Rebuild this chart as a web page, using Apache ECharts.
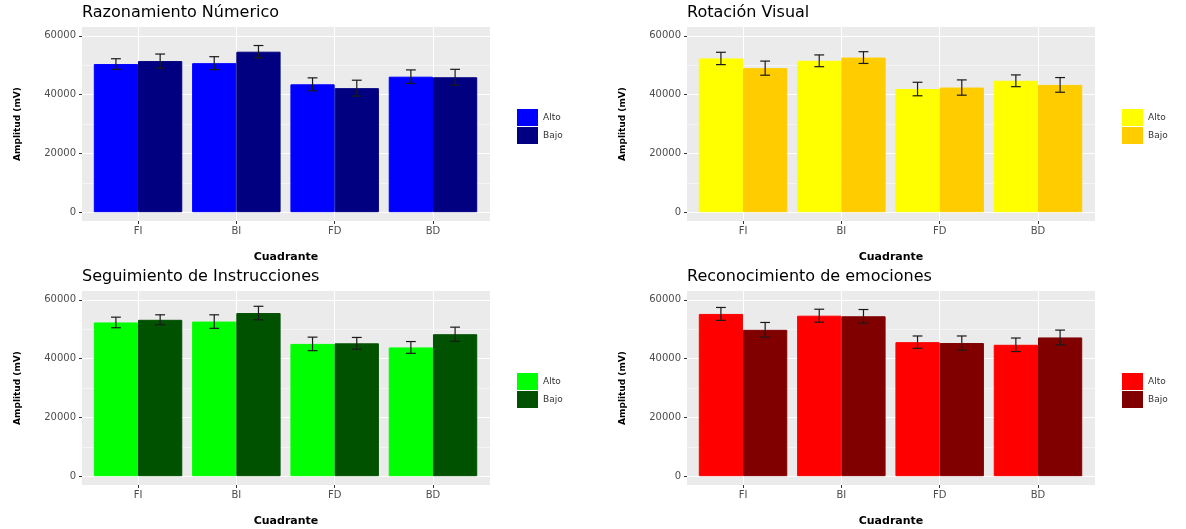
<!DOCTYPE html>
<html>
<head>
<meta charset="utf-8">
<script src="https://cdn.jsdelivr.net/npm/echarts@6.0.0/dist/echarts.min.js"></script>
<style>
html,body{margin:0;padding:0;background:#ffffff;}
#chart{width:1186px;height:529px;}
</style>
</head>
<body>
<div id="chart"></div>
<script>
// ---- data ----
const categories = ['FI', 'BI', 'FD', 'BD'];
const groups = ['Alto', 'Bajo'];
const yTicks = [0, 20000, 40000, 60000];
const yMinorTicks = [10000, 30000, 50000];
const titles = ['Razonamiento Númerico', 'Rotación Visual', 'Seguimiento de Instrucciones', 'Reconocimiento de emociones'];
const panelKeys = ['RN', 'RV', 'SI', 'RE'];

const rnAlto = [50400, 50700, 43500, 46100];
const rnBajo = [51400, 54600, 42200, 45900];
const rnAltoErr = [1800, 2200, 2200, 2300];
const rnBajoErr = [2400, 2100, 2700, 2700];

const rvAlto = [52300, 51500, 41900, 44700];
const rvBajo = [49000, 52600, 42400, 43300];
const rvAltoErr = [2100, 2000, 2300, 2000];
const rvBajoErr = [2400, 2000, 2600, 2500];

const siAlto = [52300, 52600, 45000, 43800];
const siBajo = [53200, 55500, 45200, 48300];
const siAltoErr = [1800, 2300, 2300, 2000];
const siBajoErr = [1700, 2300, 2000, 2400];

const reAlto = [55200, 54600, 45600, 44700];
const reBajo = [49800, 54400, 45300, 47200];
const reAltoErr = [2200, 2200, 2100, 2300];
const reBajoErr = [2500, 2300, 2400, 2500];

// ---- styles ----
const altoColors = ['#0000FF', '#FFFF00', '#00FF00', '#FF0000'];
const bajoColors = ['#000080', '#FFCC00', '#005200', '#800000'];

const panelData = [
  [rnAlto, rnBajo, rnAltoErr, rnBajoErr],
  [rvAlto, rvBajo, rvAltoErr, rvBajoErr],
  [siAlto, siBajo, siAltoErr, siBajoErr],
  [reAlto, reBajo, reAltoErr, reBajoErr]
];

const FONT = 'DejaVu Sans';
const gridPos = [[82, 27], [687, 27], [82, 291], [687, 291]];
const GW = 408, GH = 194;
const catIdx = categories.map(function (c, i) { return i; });

function errRender(params, api) {
  const x = api.value(0), v = api.value(1), e = api.value(2), side = api.value(3);
  const unit = api.size([1, 0])[0];
  const px = api.coord([x, v])[0] + side * unit * 0.225;
  const yHi = api.coord([x, v + e])[1];
  const yLo = api.coord([x, v - e])[1];
  const half = unit * 0.05;
  const style = { stroke: '#1A1A1A', lineWidth: 1.2, fill: null };
  return {
    type: 'group',
    children: [
      { type: 'line', shape: { x1: px, y1: yHi, x2: px, y2: yLo }, style: style },
      { type: 'line', shape: { x1: px - half, y1: yHi, x2: px + half, y2: yHi }, style: style },
      { type: 'line', shape: { x1: px - half, y1: yLo, x2: px + half, y2: yLo }, style: style }
    ]
  };
}

const grid = [], xAxis = [], yAxis = [], series = [], legend = [], title = [];

gridPos.forEach(function (pos, p) {
  const gx = pos[0], gy = pos[1];
  grid.push({ left: gx, top: gy, width: GW, height: GH, show: true, backgroundColor: '#EBEBEB', borderWidth: 0 });
  title.push({ text: titles[p], left: gx, top: gy - 22, padding: 0,
    textStyle: { fontFamily: FONT, fontSize: 16, fontWeight: 'normal', color: '#000000' } });
  xAxis.push({
    gridIndex: p, type: 'value', min: -0.57, max: 3.58,
    axisLine: { show: false, onZero: false },
    axisTick: { show: true, length: 3, customValues: catIdx, lineStyle: { color: '#333333' } },
    axisLabel: { customValues: catIdx, formatter: function (v) { return categories[Math.round(v)]; },
      color: '#4D4D4D', fontSize: 10, margin: 5, fontFamily: FONT },
    splitLine: { show: true, lineStyle: { color: '#FFFFFF', width: 1 } },
    name: 'Cuadrante', nameLocation: 'middle', nameGap: 31,
    nameTextStyle: { fontFamily: FONT, fontWeight: 'bold', fontSize: 11, color: '#000000' }
  });
  yAxis.push({
    gridIndex: p, type: 'value', min: -3000, max: 63000, position: 'left',
    axisLine: { show: false, onZero: false },
    axisTick: { show: true, length: 3, customValues: yTicks, lineStyle: { color: '#333333' } },
    axisLabel: { customValues: yTicks, formatter: function (v) { return String(Math.round(v)); },
      color: '#4D4D4D', fontSize: 10, margin: 6, fontFamily: FONT },
    splitLine: { show: true, lineStyle: { color: '#FFFFFF', width: 1 } },
    name: 'Amplitud (mV)', nameLocation: 'middle', nameGap: 60,
    nameTextStyle: { fontFamily: FONT, fontWeight: 'bold', fontSize: 9, color: '#000000' }
  });
  yAxis.push({
    gridIndex: p, type: 'value', min: -3000, max: 63000, position: 'left',
    axisLine: { show: false, onZero: false },
    axisTick: { show: false, customValues: yMinorTicks },
    axisLabel: { show: false, customValues: yMinorTicks },
    splitLine: { show: true, lineStyle: { color: '#FFFFFF', width: 0.5 } }
  });
  const d = panelData[p];
  const nA = panelKeys[p] + ' ' + groups[0];
  const nB = panelKeys[p] + ' ' + groups[1];
  series.push({
    name: nA, type: 'bar', xAxisIndex: p, yAxisIndex: 2 * p,
    data: d[0].map(function (v, i) { return [i, v]; }),
    barGap: '0%', barCategoryGap: '10%',
    itemStyle: { color: altoColors[p], borderColor: altoColors[p], borderWidth: 1 }, z: 2
  });
  series.push({
    name: nB, type: 'bar', xAxisIndex: p, yAxisIndex: 2 * p,
    data: d[1].map(function (v, i) { return [i, v]; }),
    barGap: '0%', barCategoryGap: '10%',
    itemStyle: { color: bajoColors[p], borderColor: bajoColors[p], borderWidth: 1 }, z: 2
  });
  const errData = d[0].map(function (v, i) { return [i, v, d[2][i], -1]; })
    .concat(d[1].map(function (v, i) { return [i, v, d[3][i], 1]; }));
  series.push({
    type: 'custom', xAxisIndex: p, yAxisIndex: 2 * p, renderItem: errRender,
    data: errData, encode: { x: 0, y: 1 }, z: 4, silent: true
  });
  legend.push({
    data: [nA, nB], orient: 'vertical', left: gx + 435, top: gy + 82,
    itemWidth: 21, itemHeight: 17, itemGap: 1, icon: 'rect', padding: 0,
    selectedMode: false, itemStyle: { borderWidth: 0 },
    formatter: function (n) { return n.split(' ')[1]; },
    textStyle: { fontFamily: FONT, fontSize: 9, color: '#333333' }
  });
});

const chart = echarts.init(document.getElementById('chart'), null, { renderer: 'canvas' });
chart.setOption({
  animation: false,
  backgroundColor: '#FFFFFF',
  textStyle: { fontFamily: FONT },
  title: title, grid: grid, xAxis: xAxis, yAxis: yAxis, legend: legend, series: series
});
</script>
</body>
</html>
